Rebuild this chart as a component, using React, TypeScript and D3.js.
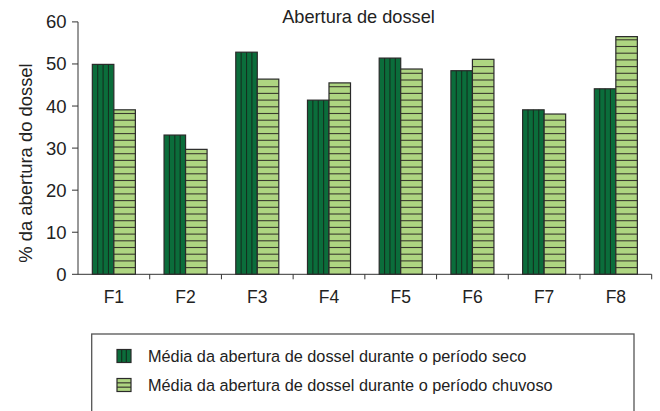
import React from "react";
import * as d3 from "d3";

const categories = ["F1", "F2", "F3", "F4", "F5", "F6", "F7", "F8"];
const secoValues = [49.9, 33.1, 52.8, 41.4, 51.4, 48.4, 39.1, 44.1];
const chuvosoValues = [39.1, 29.7, 46.4, 45.5, 48.8, 51.1, 38.1, 56.5];
const yTicks = [0, 10, 20, 30, 40, 50, 60];
const seriesNames = [
  "Média da abertura de dossel durante o período seco",
  "Média da abertura de dossel durante o período chuvoso",
];

const W = 660;
const H = 411;
const FONT = "Liberation Sans, Arial, sans-serif";
const DARK = "#0b6d3b";
const LIGHT = "#aed581";
const STROKE = "#2a2a2a";

export default function App() {
  const x0 = 78, x1 = 651.7, yTop = 21.9, yBot = 274.3;
  const x = d3.scaleBand<string>().domain(categories).range([x0, x1]).paddingInner(0).paddingOuter(0);
  const y = d3.scaleLinear().domain([0, 60]).range([yBot, yTop]);
  const bw = x.bandwidth() * 0.3;
  const stripeH = 6.7;

  const darkBar = (c: string, v: number, i: number) => {
    const bx = (x(c) as number) + x.bandwidth() * 0.2;
    const by = y(v);
    const h = yBot - by;
    return (
      <g key={"d" + i}>
        <rect x={bx} y={by} width={bw} height={h} fill={DARK} />
        {[1, 2, 3].map((k) => (
          <line key={k} x1={bx + (k * bw) / 4} x2={bx + (k * bw) / 4} y1={by} y2={yBot} stroke="#14301f" strokeWidth={1.1} />
        ))}
        <rect x={bx} y={by} width={bw} height={h} fill="none" stroke={STROKE} strokeWidth={1.2} />
      </g>
    );
  };

  const lightBar = (c: string, v: number, i: number) => {
    const bx = (x(c) as number) + x.bandwidth() * 0.5;
    const by = y(v);
    const h = yBot - by;
    const n = Math.floor(h / stripeH);
    const lines = d3.range(1, n + 1).map((k) => yBot - k * stripeH).filter((ly) => ly > by + 1.5);
    return (
      <g key={"l" + i}>
        <rect x={bx} y={by} width={bw} height={h} fill={LIGHT} />
        {lines.map((ly, k) => (
          <line key={k} x1={bx} x2={bx + bw} y1={ly} y2={ly} stroke="#3a3a2e" strokeWidth={1.1} />
        ))}
        <rect x={bx} y={by} width={bw} height={h} fill="none" stroke={STROKE} strokeWidth={1.2} />
      </g>
    );
  };

  const lx = 117, ly1 = 349.5, ly2 = 378.5, sw = 14, sh = 13;

  return (
    <svg width={W} height={H} style={{ position: "absolute", left: 0, top: 0, background: "#fff" }} fontFamily={FONT}>
      <rect x={0} y={0} width={W} height={H} fill="#fff" />
      {/* title */}
      <text x={358.5} y={23} textAnchor="middle" fontSize={18.2} fill="#222">Abertura de dossel</text>
      {/* y label */}
      <text transform={`translate(31.5,163) rotate(-90)`} textAnchor="middle" fontSize={18.4} fill="#222">
        % da abertura do dossel
      </text>
      {/* bars */}
      {categories.map((c, i) => darkBar(c, secoValues[i], i))}
      {categories.map((c, i) => lightBar(c, chuvosoValues[i], i))}
      {/* axes */}
      <line x1={x0} x2={x0} y1={yTop} y2={yBot} stroke="#333" strokeWidth={1} />
      <line x1={x0} x2={x1} y1={yBot} y2={yBot} stroke="#333" strokeWidth={1} />
      {yTicks.map((t) => (
        <g key={t}>
          <line x1={x0 - 6} x2={x0} y1={y(t)} y2={y(t)} stroke="#333" />
          <text x={x0 - 11.5} y={y(t) + 6.5} textAnchor="end" fontSize={18.5} fill="#222">{t}</text>
        </g>
      ))}
      {categories.map((c, i) => (
        <g key={c}>
          <line x1={(x(c) as number) + x.bandwidth()} x2={(x(c) as number) + x.bandwidth()} y1={yBot} y2={yBot + 5} stroke="#333" />
          <text x={(x(c) as number) + x.bandwidth() / 2} y={yBot + 29} textAnchor="middle" fontSize={17.5} fill="#222">{c}</text>
        </g>
      ))}
      {/* legend */}
      <rect x={91.7} y={334} width={542.3} height={100} fill="none" stroke="#555" strokeWidth={1.3} />
      <rect x={lx} y={ly1} width={sw} height={sh} fill={DARK} />
      {[1, 2].map((k) => (
        <line key={k} x1={lx + (k * sw) / 3} x2={lx + (k * sw) / 3} y1={ly1} y2={ly1 + sh} stroke="#14301f" strokeWidth={1.2} />
      ))}
      <rect x={lx} y={ly1} width={sw} height={sh} fill="none" stroke={STROKE} strokeWidth={1.2} />
      <rect x={lx} y={ly2} width={sw} height={sh} fill={LIGHT} />
      {[1, 2].map((k) => (
        <line key={k} x1={lx} x2={lx + sw} y1={ly2 + (k * sh) / 3} y2={ly2 + (k * sh) / 3} stroke="#3a3a2e" strokeWidth={1.2} />
      ))}
      <rect x={lx} y={ly2} width={sw} height={sh} fill="none" stroke={STROKE} strokeWidth={1.2} />
      <text x={148} y={362} fontSize={16.3} fill="#222">{seriesNames[0]}</text>
      <text x={148} y={391} fontSize={16.3} fill="#222">{seriesNames[1]}</text>
    </svg>
  );
}
